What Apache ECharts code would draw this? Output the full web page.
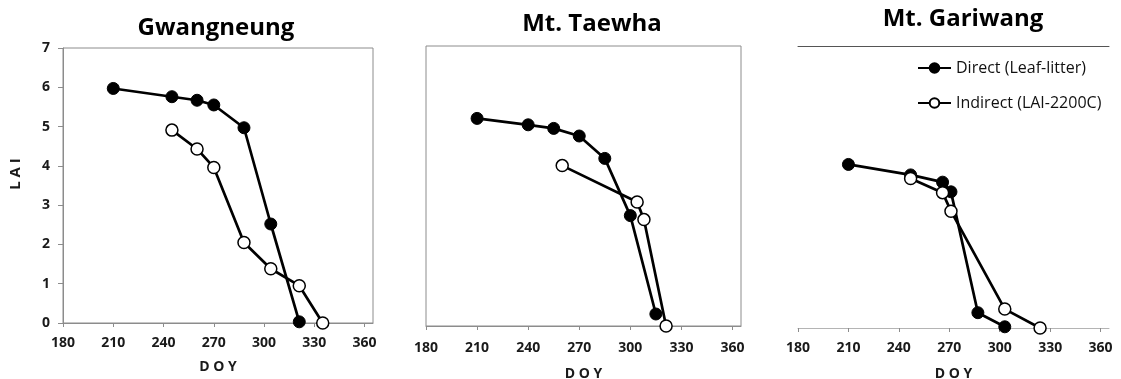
<!DOCTYPE html>
<html>
<head>
<meta charset="utf-8">
<script src="https://cdn.jsdelivr.net/npm/echarts@6/dist/echarts.min.js"></script>
<style>
  html, body { margin: 0; padding: 0; background: #fff; }
  #chart { width: 1121px; height: 379px; }
</style>
</head>
<body>
<div id="chart"></div>
<script>
// data (DOY, LAI)
const sites = ["Gwangneung", "Mt. Taewha", "Mt. Gariwang"];
const seriesNames = ["Direct (Leaf-litter)", "Indirect (LAI-2200C)"];
const doyTicks = [180, 210, 240, 270, 300, 330, 360];
const laiTicks = [0, 1, 2, 3, 4, 5, 6, 7];

const gwDirect = [[210, 5.97], [245, 5.76], [260, 5.67], [270, 5.55], [288, 4.97], [304, 2.52], [321, 0.03]];
const gwIndirect = [[245, 4.91], [260, 4.43], [270, 3.96], [288, 2.05], [304, 1.38], [321, 0.95], [335, 0]];
const twDirect = [[210, 5.19], [240, 5.03], [255, 4.94], [270, 4.75], [285, 4.19], [300, 2.76], [315, 0.3]];
const twIndirect = [[260, 4.01], [304, 3.1], [308, 2.66], [321, 0]];
const gaDirect = [[210, 4.06], [247, 3.8], [266, 3.62], [271, 3.38], [287, 0.38], [303, 0.03]];
const gaIndirect = [[247, 3.71], [266, 3.36], [271, 2.9], [303, 0.47], [324, 0]];

const direct = [gwDirect, twDirect, gaDirect];
const indirect = [gwIndirect, twIndirect, gaIndirect];

const FONT = '"Open Sans", sans-serif';
const chart = echarts.init(document.getElementById("chart"));

// fixed pixel boxes; outerBoundsMode off so v6 doesn't shrink them
const grids = [
  { left: 63, top: 48, width: 310, height: 275, show: true, borderColor: "#8c8c8c", borderWidth: 1, outerBoundsMode: "none" },
  { left: 426, top: 46, width: 315, height: 280, show: true, borderColor: "#8c8c8c", borderWidth: 1, outerBoundsMode: "none" },
  { left: 798, top: 46, width: 311, height: 282, outerBoundsMode: "none" }
];
const titlePos = [[216, 28], [592, 24], [963, 19]];
const labelMargin = [13, 15, 13];
const nameGap = [37, 41, 39];

const xAxes = [];
const yAxes = [];
const series = [];

for (let i = 0; i < 3; i++) {
  xAxes.push({
    type: "value", gridIndex: i, min: 180, max: 365, interval: 30,
    position: "bottom",
    name: "D O Y", nameLocation: "middle", nameGap: nameGap[i],
    nameTextStyle: { fontFamily: FONT, fontWeight: "bold", fontSize: 14, color: "#1a1a1a" },
    axisLine: { show: true, lineStyle: { color: i === 2 ? "#b4b4b4" : "#8c8c8c", width: 1 } },
    axisTick: { show: true, inside: false, length: 4, customValues: doyTicks, lineStyle: { color: "#8c8c8c" } },
    axisLabel: { customValues: doyTicks, margin: labelMargin[i], fontFamily: FONT, fontWeight: "bold", fontSize: 14, color: "#1a1a1a" },
    splitLine: { show: false }
  });
  yAxes.push({
    type: "value", gridIndex: i, min: 0, max: 7, interval: 1,
    axisLine: { show: i === 0, lineStyle: { color: "#8c8c8c" } },
    axisTick: { show: i === 0, length: 5, customValues: laiTicks, lineStyle: { color: "#8c8c8c" } },
    axisLabel: { show: i === 0, customValues: laiTicks, margin: 13, fontFamily: FONT, fontWeight: "bold", fontSize: 14, color: "#1a1a1a" },
    splitLine: { show: false }
  });
  series.push({
    name: seriesNames[0], type: "line", xAxisIndex: i, yAxisIndex: i,
    data: direct[i], symbol: "circle", symbolSize: 12, clip: false,
    lineStyle: { color: "#000", width: 2.7 },
    itemStyle: { color: "#000", borderColor: "#000", borderWidth: 1 }
  });
  series.push({
    name: seriesNames[1], type: "line", xAxisIndex: i, yAxisIndex: i,
    data: indirect[i], symbol: "circle", symbolSize: 12, clip: false, z: 3,
    lineStyle: { color: "#000", width: 2.7 },
    itemStyle: { color: "#fff", borderColor: "#000", borderWidth: 1.5 }
  });
}

// top rule of the third panel
xAxes.push({
  type: "value", gridIndex: 2, min: 180, max: 365, position: "top",
  axisLine: { show: true, lineStyle: { color: "#555", width: 1 } },
  axisTick: { show: false }, axisLabel: { show: false }, splitLine: { show: false }
});

const graphics = sites.map((s, i) => ({
  type: "text", x: titlePos[i][0], y: titlePos[i][1],
  style: { text: s, align: "center", verticalAlign: "middle", font: "bold 24px " + FONT, fill: "#000" }
}));
graphics.push({
  type: "text", x: 16, y: 174, rotation: Math.PI / 2,
  style: { text: "L A I", align: "center", verticalAlign: "middle", font: "bold 15px " + FONT, fill: "#1a1a1a" }
});

chart.setOption({
  animation: false,
  backgroundColor: "#fff",
  grid: grids,
  xAxis: xAxes,
  yAxis: yAxes,
  series: series,
  legend: {
    data: seriesNames, orient: "vertical", left: 917, top: 60, padding: 0,
    itemWidth: 33, itemHeight: 12, itemGap: 19,
    textStyle: { fontFamily: FONT, fontSize: 16, color: "#111" }
  },
  graphic: graphics
});
</script>
</body>
</html>
